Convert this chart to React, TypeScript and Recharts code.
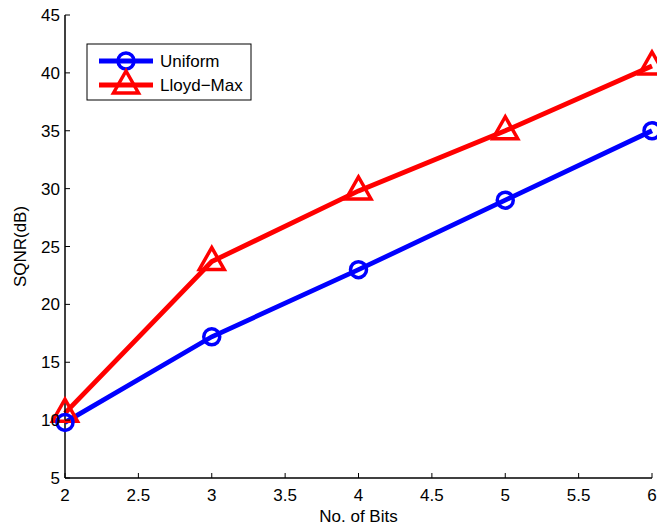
import React from "react";
import { LineChart, Line, XAxis, YAxis } from "recharts";

const bits = [2, 3, 4, 5, 6];
const uniform = [9.8, 17.2, 23, 29, 35];
const lloydMax = [10.6, 23.7, 29.8, 35, 40.6];

const xTicks = [2, 2.5, 3, 3.5, 4, 4.5, 5, 5.5, 6];
const yTicks = [5, 10, 15, 20, 25, 30, 35, 40, 45];

const data = bits.map((b, i) => ({ bits: b, uniform: uniform[i], lloydMax: lloydMax[i] }));

const FONT = "'Liberation Sans', Arial, Helvetica, sans-serif";
const BLUE = "#0000ff";
const RED = "#ff0000";

// inward MATLAB-style ticks
const BottomTick = (props: any) => {
  const { x, y, payload } = props;
  return (
    <g>
      <line x1={x} x2={x} y1={y} y2={y - 5} stroke="#000" />
      <text x={x} y={y + 23} textAnchor="middle" fontSize={17} fontFamily={FONT} fill="#000">
        {payload.value}
      </text>
    </g>
  );
};

const TopTick = (props: any) => {
  const { x, y } = props;
  return <line x1={x} x2={x} y1={y} y2={y + 5} stroke="#000" />;
};

const LeftTick = (props: any) => {
  const { x, y, payload } = props;
  return (
    <g>
      <line x1={x} x2={x + 5} y1={y} y2={y} stroke="#000" />
      <text x={x - 5} y={y + 6} textAnchor="end" fontSize={17} fontFamily={FONT} fill="#000">
        {payload.value}
      </text>
    </g>
  );
};

const RightTick = (props: any) => {
  const { x, y } = props;
  return <line x1={x} x2={x - 5} y1={y} y2={y} stroke="#000" />;
};

const CircleDot = (props: any) => {
  const { cx, cy, index } = props;
  return <circle key={`c-${index}`} cx={cx} cy={cy} r={8} fill="none" stroke={BLUE} strokeWidth={3.5} />;
};

const TriangleDot = (props: any) => {
  const { cx, cy, index } = props;
  const pts = `${cx},${cy - 14} ${cx - 12.5},${cy + 8} ${cx + 12.5},${cy + 8}`;
  return <polygon key={`t-${index}`} points={pts} fill="none" stroke={RED} strokeWidth={3.5} strokeLinejoin="miter" />;
};

function LegendBox() {
  return (
    <svg
      width={166}
      height={58}
      style={{ position: "absolute", left: 86, top: 43, overflow: "visible" }}
    >
      <rect x={1} y={1} width={164} height={56} fill="#fff" stroke="#000" strokeWidth={1} />
      <line x1={13} x2={67} y1={18} y2={18} stroke={BLUE} strokeWidth={4.8} />
      <circle cx={40} cy={18} r={8} fill="none" stroke={BLUE} strokeWidth={3.5} />
      <text x={74} y={24} fontSize={17} fontFamily={FONT} fill="#000">Uniform</text>
      <line x1={13} x2={67} y1={42} y2={42} stroke={RED} strokeWidth={4.8} />
      <polygon points="40,28 27.5,50 52.5,50" fill="none" stroke={RED} strokeWidth={3.5} />
      <text x={74} y={48} fontSize={17} fontFamily={FONT} fill="#000">Lloyd−Max</text>
    </svg>
  );
}

export default function App() {
  return (
    <div style={{ position: "absolute", left: 0, top: 0, width: 657, height: 527, background: "#fff" }}>
      <LineChart width={657} height={527} data={data} margin={{ top: 15, right: 5, left: 0, bottom: 0 }}>
        <XAxis
          dataKey="bits"
          type="number"
          domain={[2, 6]}
          ticks={xTicks}
          height={49}
          tickSize={0}
          tickMargin={0}
          tick={<BottomTick />}
          axisLine={{ stroke: "#000", strokeWidth: 1.5 }}
          tickLine={false}
          label={{ value: "No. of Bits", position: "insideBottom", offset: 5, fontSize: 17, fontFamily: FONT, fill: "#000" }}
        />
        <XAxis
          xAxisId="top"
          orientation="top"
          dataKey="bits"
          type="number"
          domain={[2, 6]}
          ticks={xTicks}
          height={0}
          tickSize={0}
          tickMargin={0}
          tick={<TopTick />}
          axisLine={{ stroke: "#000", strokeWidth: 1.5 }}
          tickLine={false}
        />
        <YAxis
          type="number"
          domain={[5, 45]}
          ticks={yTicks}
          width={65}
          tickSize={0}
          tickMargin={0}
          tick={<LeftTick />}
          axisLine={{ stroke: "#000", strokeWidth: 1.5 }}
          tickLine={false}
          label={{
            value: "SQNR(dB)",
            angle: -90,
            position: "insideLeft",
            offset: 20,
            style: { textAnchor: "middle" },
            fontSize: 17,
            fontFamily: FONT,
            fill: "#000",
          }}
        />
        <YAxis
          yAxisId="right"
          orientation="right"
          type="number"
          domain={[5, 45]}
          ticks={yTicks}
          width={0}
          tickSize={0}
          tickMargin={0}
          tick={<RightTick />}
          axisLine={{ stroke: "#000", strokeWidth: 1.5 }}
          tickLine={false}
        />
        <Line
          dataKey="lloydMax"
          stroke={RED}
          strokeWidth={4.8}
          dot={TriangleDot}
          activeDot={false}
          isAnimationActive={false}
        />
        <Line
          dataKey="uniform"
          stroke={BLUE}
          strokeWidth={4.8}
          dot={CircleDot}
          activeDot={false}
          isAnimationActive={false}
        />
      </LineChart>
      <LegendBox />
    </div>
  );
}
